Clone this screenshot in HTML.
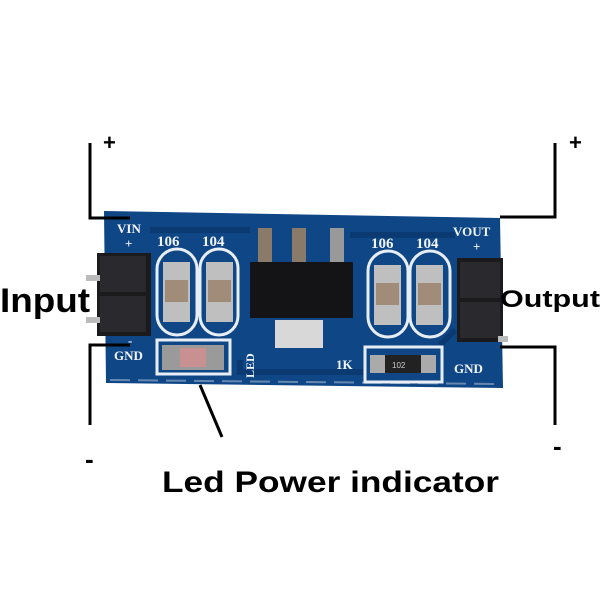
<!DOCTYPE html>
<html><head><meta charset="utf-8"><style>
html,body{margin:0;padding:0;background:#fff;}
svg{display:block;}
</style></head><body>
<svg width="600" height="600" viewBox="0 0 600 600" xmlns="http://www.w3.org/2000/svg" font-family="Liberation Sans, sans-serif">
<rect width="600" height="600" fill="#fff"/>
<!-- board -->
<polygon points="104,211 500,218 503,388 106,383" fill="#0f4686"/>
<line x1="110" y1="380" x2="498" y2="384" stroke="#9fb4cc" stroke-width="2" stroke-dasharray="20,8" opacity="0.6"/>
<!-- traces -->
<path d="M150,230 H250 M350,235 H455 M240,360 V372 H365 M440,345 L455,330" stroke="#0b3a72" stroke-width="6" fill="none"/>
<!-- left header -->
<rect x="97" y="253" width="54" height="83" fill="#1b1b1e"/>
<rect x="100" y="256" width="46" height="36" fill="#2a2a2e"/>
<rect x="100" y="296" width="46" height="36" fill="#2a2a2e"/>
<rect x="86" y="275" width="14" height="6" fill="#bbb"/>
<rect x="86" y="317" width="14" height="6" fill="#bbb"/>
<!-- right header -->
<rect x="457" y="258" width="46" height="84" fill="#1b1b1e"/>
<rect x="460" y="262" width="40" height="36" fill="#2a2a2e"/>
<rect x="460" y="302" width="40" height="36" fill="#2a2a2e"/>
<rect x="498" y="336" width="10" height="6" fill="#bbb"/>
<!-- cap ovals -->
<g fill="none" stroke="#e8eef6" stroke-width="3">
<rect x="157" y="249" width="40" height="86" rx="20"/>
<rect x="200" y="249" width="38" height="86" rx="19"/>
<rect x="368" y="251" width="40" height="86" rx="20"/>
<rect x="410" y="251" width="40" height="86" rx="20"/>
<rect x="157" y="340" width="73" height="34"/>
<rect x="365" y="347" width="77" height="35"/>
</g>
<!-- caps -->
<g>
<rect x="163" y="262" width="27" height="60" fill="#bfbfbf"/><rect x="165" y="280" width="23" height="22" fill="#a08c78"/>
<rect x="206" y="262" width="27" height="60" fill="#bfbfbf"/><rect x="208" y="280" width="23" height="22" fill="#a08c78"/>
<rect x="374" y="265" width="27" height="60" fill="#bfbfbf"/><rect x="376" y="283" width="23" height="22" fill="#a08c78"/>
<rect x="416" y="265" width="27" height="60" fill="#bfbfbf"/><rect x="418" y="283" width="23" height="22" fill="#a08c78"/>
</g>
<!-- regulator -->
<rect x="258" y="228" width="14" height="36" fill="#8a7a6a"/>
<rect x="292" y="228" width="14" height="36" fill="#8a7a6a"/>
<rect x="330" y="228" width="14" height="36" fill="#999"/>
<rect x="250" y="262" width="103" height="56" fill="#141416"/>
<rect x="275" y="320" width="48" height="28" fill="#d8d8d8"/>
<!-- LED & resistor -->
<rect x="162" y="345" width="62" height="25" fill="#9a9a9a"/>
<rect x="180" y="348" width="26" height="19" fill="#c89090"/>
<rect x="370" y="355" width="66" height="18" fill="#aaa"/>
<rect x="385" y="355" width="36" height="18" fill="#222"/>
<text x="392" y="368" font-size="8" fill="#ccc">102</text>
<!-- silkscreen text -->
<g fill="#f2f5fa" font-family="Liberation Serif, serif" font-weight="bold">
<text x="117" y="233" font-size="13">VIN</text>
<text x="125" y="248" font-size="13">+</text>
<text x="157" y="246" font-size="15">106</text>
<text x="202" y="246" font-size="15">104</text>
<text x="371" y="248" font-size="15">106</text>
<text x="416" y="248" font-size="15">104</text>
<text x="453" y="236" font-size="13">VOUT</text>
<text x="473" y="251" font-size="13">+</text>
<text x="114" y="360" font-size="13">GND</text>
<text x="128" y="345" font-size="13">-</text>
<text x="454" y="373" font-size="13">GND</text>
<text x="336" y="369" font-size="13">1K</text>
<text transform="translate(254,378) rotate(-90)" font-size="12">LED</text>
</g>
<!-- annotation lines -->
<g stroke="#000" stroke-width="3" fill="none">
<polyline points="90,143 90,218 130,218"/>
<polyline points="130,345 90,345 90,425"/>
<polyline points="555,143 555,217 500,217"/>
<polyline points="500,347 555,347 555,425"/>
<line x1="200" y1="385" x2="222" y2="437"/>
</g>
<g font-weight="bold" fill="#000">
<text x="103" y="150" font-size="22">+</text>
<text x="569" y="150" font-size="22">+</text>
<text x="85" y="468" font-size="26">-</text>
<text x="553" y="455" font-size="26">-</text>
<text x="0" y="312" font-size="34" textLength="90" lengthAdjust="spacingAndGlyphs">Input</text>
<text x="500" y="307" font-size="24" textLength="100" lengthAdjust="spacingAndGlyphs">Output</text>
<text x="162" y="492" font-size="30" textLength="337" lengthAdjust="spacingAndGlyphs">Led Power indicator</text>
</g>
</svg>
</body></html>
